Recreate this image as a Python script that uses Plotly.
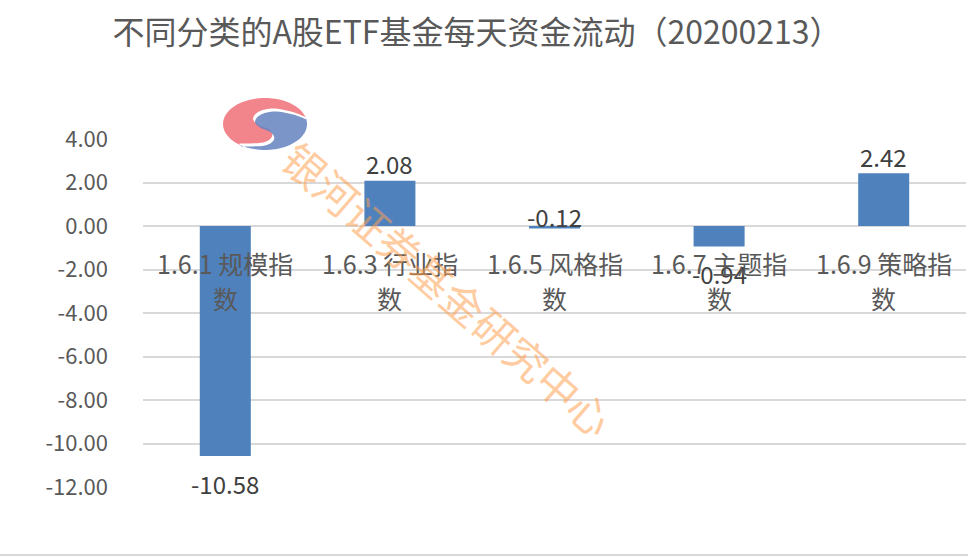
import math
import plotly.graph_objects as go

categories = ["1.6.1 规模指数", "1.6.3 行业指数", "1.6.5 风格指数", "1.6.7 主题指数", "1.6.9 策略指数"]
cat_line1 = ["1.6.1 规模指", "1.6.3 行业指", "1.6.5 风格指", "1.6.7 主题指", "1.6.9 策略指"]
cat_line2 = ["数", "数", "数", "数", "数"]
values = [-10.58, 2.08, -0.12, -0.94, 2.42]
tick_vals = [4, 2, 0, -2, -4, -6, -8, -10, -12]
tick_text = ["4.00", "2.00", "0.00", "-2.00", "-4.00", "-6.00", "-8.00", "-10.00", "-12.00"]
title = "不同分类的A股ETF基金每天资金流动（20200213）"
watermark = "银河证券基金研究中心"

W, H = 968, 557
L, R, T, B = 143, 2, 139, 70
FONT = "Noto Sans CJK SC, Microsoft YaHei, sans-serif"

fig = go.Figure()
fig.add_trace(go.Bar(
    x=categories, y=values, marker=dict(color="#4F81BD", line=dict(width=0)),
    width=0.31, hoverinfo="x+y",
))

# data labels
for c, v in zip(categories, values):
    if v >= 0:
        shift = 17
    elif v > -0.5:
        shift = 12
    else:
        shift = -27
    fig.add_annotation(x=c, y=v, text=f"{v:.2f}", showarrow=False, yshift=shift,
                       font=dict(family=FONT, size=24, color="#404040"))

# category labels at zero line
for c, a, b in zip(categories, cat_line1, cat_line2):
    fig.add_annotation(x=c, y=0, text=a, showarrow=False, yshift=-37,
                       font=dict(family=FONT, size=25, color="#595959"))
    fig.add_annotation(x=c, y=0, text=b, showarrow=False, yshift=-72,
                       font=dict(family=FONT, size=25, color="#595959"))

pw, ph = W - L - R, H - T - B
def px(x, y):
    return (x - L) / pw, (H - B - y) / ph

def path(points):
    s = ""
    for i, (x, y) in enumerate(points):
        X, Y = px(x, y)
        s += ("M" if i == 0 else "L") + f"{X:.4f},{Y:.4f} "
    return s + "Z"

# logo (taegeuk-like ellipse): red upper-left, blue lower-right, white S between
cx, cy, rx, ry = 265, 124, 42, 26
def ell(deg):
    t = math.radians(deg)
    return cx + rx * math.cos(t), cy + ry * math.sin(t)

A_start, A_end = 347, 126
s_pts = [ell(A_start), (292, 113), (274, 110), (260, 113), (254, 120), (259, 126),
         (270, 131), (273, 138), (264, 144), ell(A_end)]
# smooth with Catmull-Rom
def smooth(pts, n=8):
    out = []
    P = [pts[0]] + pts + [pts[-1]]
    for i in range(1, len(P) - 2):
        p0, p1, p2, p3 = P[i - 1], P[i], P[i + 1], P[i + 2]
        for j in range(n):
            t = j / n
            t2, t3 = t * t, t * t * t
            x = 0.5 * (2 * p1[0] + (-p0[0] + p2[0]) * t + (2 * p0[0] - 5 * p1[0] + 4 * p2[0] - p3[0]) * t2 + (-p0[0] + 3 * p1[0] - 3 * p2[0] + p3[0]) * t3)
            y = 0.5 * (2 * p1[1] + (-p0[1] + p2[1]) * t + (2 * p0[1] - 5 * p1[1] + 4 * p2[1] - p3[1]) * t2 + (-p0[1] + 3 * p1[1] - 3 * p2[1] + p3[1]) * t3)
            out.append((x, y))
    out.append(pts[-1])
    return out
S = smooth(s_pts)
red_arc = [ell(A_end + i * (A_start - A_end) / 60) for i in range(61)]
red_shape = red_arc + [(x - 1, y - 1.5) for (x, y) in S]
blue_arc = [ell(A_start + i * (A_end + 360 - A_start) / 60) for i in range(61)]
blue_shape = blue_arc + [(x + 1, y + 1.5) for (x, y) in reversed(S)]
fig.add_shape(type="path", path=path(red_shape), xref="paper", yref="paper",
              fillcolor="rgba(240,110,120,0.85)", line=dict(width=0), layer="above")
fig.add_shape(type="path", path=path(blue_shape), xref="paper", yref="paper",
              fillcolor="rgba(100,130,190,0.85)", line=dict(width=0), layer="above")

# watermark text
wx, wy = px(449, 288)
fig.add_annotation(x=wx, y=wy, xref="paper", yref="paper", text=watermark, showarrow=False,
                   textangle=41, font=dict(family=FONT, size=42, color="rgba(255,160,80,0.55)"))

# bottom border line
yb = -(B - 2) / ph
fig.add_shape(type="line", xref="paper", yref="paper", x0=-L / pw, x1=1 + R / pw,
              y0=yb, y1=yb, line=dict(color="#D9D9D9", width=2))

fig.update_layout(
    width=W, height=H, margin=dict(l=L, r=R, t=T, b=B),
    paper_bgcolor="white", plot_bgcolor="white", showlegend=False,
    title=dict(text=title, x=477 / W, xanchor="center", y=1 - 33 / H, yanchor="middle",
               font=dict(family=FONT, size=32, color="#595959")),
    xaxis=dict(showticklabels=False, showgrid=False, zeroline=False, showline=False, fixedrange=True),
    yaxis=dict(range=[-12, 4], tickvals=tick_vals, ticktext=tick_text, showgrid=True,
               gridcolor="#D9D9D9", gridwidth=1.5, zeroline=True, zerolinecolor="#D9D9D9",
               zerolinewidth=1.5, showline=False, ticks="", ticklabelstandoff=34,
               tickfont=dict(family=FONT, size=22, color="#595959")),
)
fig.write_html("out.html", config={"displayModeBar": False},
               post_script="document.body.style.margin='0';")
